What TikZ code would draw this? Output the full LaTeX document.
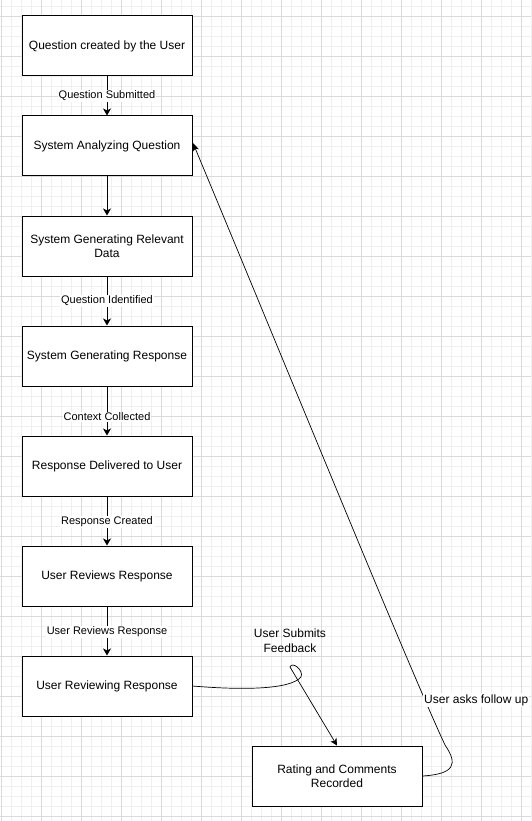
\documentclass[tikz,border=0pt]{standalone}
\usepackage{fontspec}
\setmainfont{Liberation Sans}
\usetikzlibrary{arrows.meta}
\definecolor{gridminor}{HTML}{F0F0F0}
\definecolor{gridmajor}{HTML}{DADADA}
\tikzset{
  box/.style={draw=black, line width=1pt, fill=white, rectangle, minimum width=170pt, minimum height=60pt, align=center, inner sep=0pt, font=\fontsize{12}{14.4}\selectfont},
  arr/.style={draw=black, line width=0.9pt, -{Stealth[length=7pt,width=8pt,inset=2pt]}},
  curvearr/.style={draw=black, line width=0.7pt, -{Stealth[length=7pt,width=7pt,inset=2pt]}},
  thinarr/.style={draw=black, line width=0.7pt, -{Stealth[length=8pt,width=6pt,inset=2pt]}},
  lbl/.style={fill=white, inner sep=1pt, font=\fontsize{11}{13.2}\selectfont, align=center},
  freelbl/.style={inner sep=1pt, font=\fontsize{12}{14.6}\selectfont, align=center}
}
\begin{document}
\begin{tikzpicture}[x=1pt,y=-1pt]
\useasboundingbox (0,0) rectangle (531,821);
\fill[white] (0,0) rectangle (531,821);
% grid
\foreach \i in {1,11,...,531} {\draw[gridminor, line width=0.8pt] (\i,0) -- (\i,821);}
\foreach \j in {6,16,...,821} {\draw[gridminor, line width=0.8pt] (0,\j) -- (531,\j);}
\foreach \i in {1,41,...,531} {\draw[gridmajor, line width=0.8pt] (\i,0) -- (\i,821);}
\foreach \j in {16,56,...,821} {\draw[gridmajor, line width=0.8pt] (0,\j) -- (531,\j);}
% nodes
\node[box] (b1) at (107,46) {Question created by the User};
\node[box] (b2) at (107,146) {System Analyzing Question};
\node[box] (b3) at (107,246) {System Generating Relevant\\Data};
\node[box] (b4) at (107,356) {System Generating Response};
\node[box] (b5) at (107,466) {Response Delivered to User};
\node[box] (b6) at (107,576) {User Reviews Response};
\node[box] (b7) at (107,686) {User Reviewing Response};
\node[box] (b8) at (337,776) {Rating and Comments\\Recorded};
% edges
\draw[arr] (b1) -- node[lbl] {Question Submitted} (b2);
\draw[arr] (b2) -- (b3);
\draw[arr] (b3) -- node[lbl, pos=0.5] {Question Identified} (b4);
\draw[arr] (b4) -- node[lbl, pos=0.62] {Context Collected} (b5);
\draw[arr] (b5) -- node[lbl, pos=0.52] {Response Created} (b6);
\draw[arr] (b6) -- node[lbl, pos=0.52] {User Reviews Response} (b7);
% feedback curve
\coordinate (fbA) at (301,677);
\coordinate (fbB) at (290,667);
\draw[curvearr] (b7.east) .. controls (240,690) and (290,690) .. (fbA)
  .. controls (304,670) and (292,661) .. (fbB) -- (b8.north);
\node[freelbl] (fbl) at (290,641) {User Submits\\Feedback};
% follow-up curve
\coordinate (fuA) at (445,745);
\coordinate (fuT) at (193,143);
\draw[thinarr] (b8.east) .. controls (455,774) and (458,764) .. (fuA)
  .. controls (410,670) and (300,400) .. (fuT);
\node[freelbl, anchor=west, fill=white] (ful) at (423,700) {User asks follow up};
\end{tikzpicture}
\end{document}
